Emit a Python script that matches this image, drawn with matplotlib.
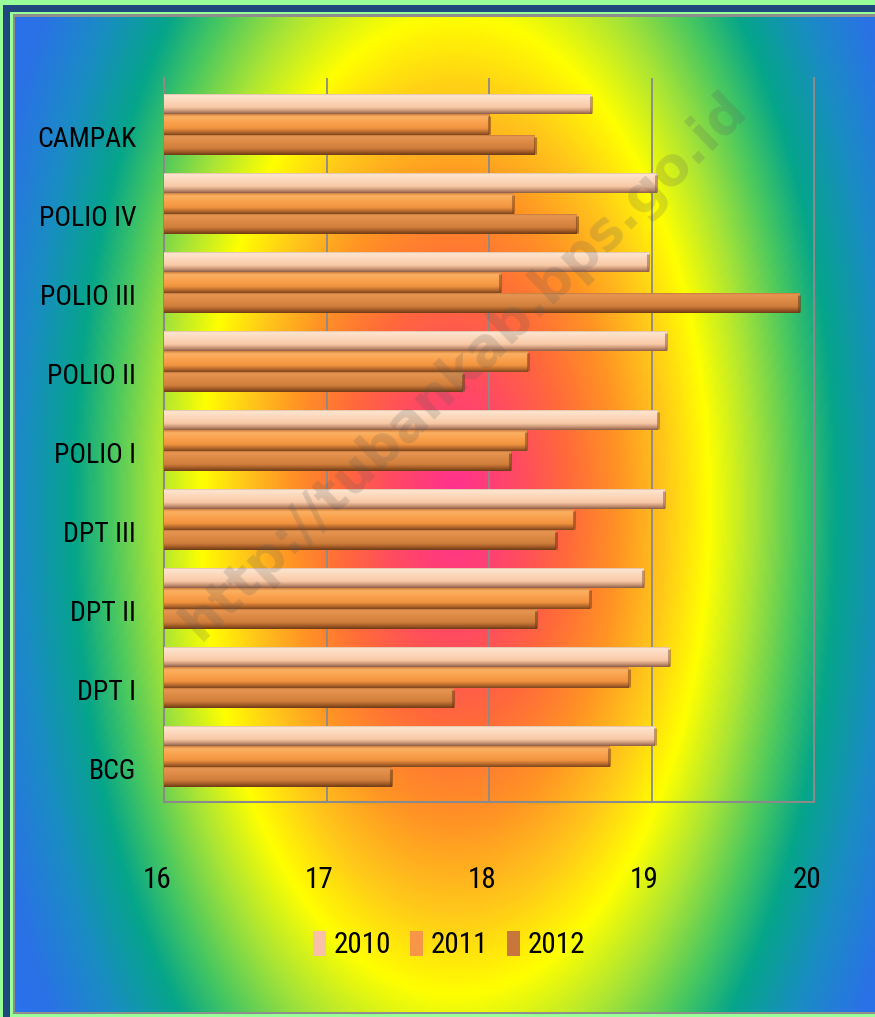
import numpy as np
import matplotlib
matplotlib.use('Agg')
import matplotlib.pyplot as plt
from matplotlib.colors import LinearSegmentedColormap
from matplotlib.patches import Rectangle
from matplotlib.transforms import ScaledTranslation
from matplotlib import font_manager as fm

# ---------------- data ----------------
categories = ['BCG', 'DPT I', 'DPT II', 'DPT III', 'POLIO I',
              'POLIO II', 'POLIO III', 'POLIO IV', 'CAMPAK']
years = ['2010', '2011', '2012']
v2010 = [19.02, 19.11, 18.95, 19.08, 19.04, 19.09, 18.98, 19.03, 18.63]
v2011 = [18.74, 18.86, 18.62, 18.52, 18.23, 18.24, 18.07, 18.15, 18.00]
v2012 = [17.40, 17.78, 18.29, 18.41, 18.13, 17.84, 19.91, 18.54, 18.28]
x_ticks = [16, 17, 18, 19, 20]


# ---------------- font: pick a narrow/condensed face if one exists ----------------
def pick_narrow():
    prefs = ['liberationsansnarrow-regular', 'robotocondensed-regular',
             'opensanscondensed', 'opensanscondensed-regular', 'dejavusanscondensed.',
             'notosans-condensed', 'condensed', 'narrow']
    files = []
    for f in fm.fontManager.ttflist:
        fn = f.fname.replace(' ', '').replace('_', '').lower()
        files.append((fn, f))
    bad = ('bold', 'italic', 'light', 'oblique', 'thin', 'medium', 'black', 'semi')
    for p in prefs:
        for fn, f in files:
            base = fn.split('/')[-1]
            if p in base and not any(b in base for b in bad):
                return f.fname
    for f in fm.fontManager.ttflist:
        if str(f.stretch) in ('condensed', 'semi-condensed', 'extra-condensed', '75', '87.5') \
                and f.style == 'normal' and f.weight in (400, 'normal', 'regular'):
            return f.fname
    return None


_nf = pick_narrow()


def fprop(size):
    if _nf:
        return fm.FontProperties(fname=_nf, size=size)
    return fm.FontProperties(family='DejaVu Sans', size=size)


W, H = 875, 1017
fig = plt.figure(figsize=(W / 100, H / 100), dpi=100)
fig.patch.set_facecolor('#99ff99')

# ---------------- background (pixel space) ----------------
bg = fig.add_axes([0, 0, 1, 1], zorder=-10)
bg.set_xlim(0, W)
bg.set_ylim(H, 0)
bg.axis('off')
bg.add_patch(Rectangle((3, 5), W, H, color='#1f497d', lw=0, zorder=1))
bg.add_patch(Rectangle((10, 12), W, H, color='#99ff99', lw=0, zorder=1.1))
bg.add_patch(Rectangle((13, 14), W, 1014 - 14, color='#8e8e8e', lw=0, zorder=1.2))

xs = np.linspace(15, W, 430)
ys = np.linspace(17, 1012, 500)
X, Y = np.meshgrid(xs, ys)
R = np.sqrt(((X - 455) / 255.0) ** 2 + ((Y - 505) / 490.0) ** 2)
stops = [(0.0, '#ff2f92'), (0.25, '#ff4a62'), (0.45, '#ff6a3a'),
         (0.65, '#ff9424'), (0.83, '#ffc81a'), (1.0, '#ffff00'),
         (1.18, '#a8e436'), (1.36, '#44c662'), (1.5, '#05a58a'),
         (1.7, '#1a8cc4'), (1.9, '#2a72e6'), (2.3, '#2f6bff')]
rmax = 2.3
cmap_bg = LinearSegmentedColormap.from_list('bg', [(p / rmax, c) for p, c in stops])
bg.imshow(R / rmax, cmap=cmap_bg, vmin=0, vmax=1, extent=[15, W, 1012, 17],
          aspect='auto', interpolation='bilinear', zorder=2)

# ---------------- main chart ----------------
ax_l, ax_r, ax_t, ax_b = 164, 814, 78, 802
ax = fig.add_axes([ax_l / W, 1 - ax_b / H, (ax_r - ax_l) / W, (ax_b - ax_t) / H])
ax.patch.set_alpha(0)

pos = np.arange(len(categories))
bh = 0.257
offsets = [bh, 0.0, -bh]
base_cols = ['#f9c1a6', '#f79646', '#c8763c']
profiles = [
    [(0.0, '#c89878'), (0.1, '#fde4d0'), (0.35, '#fcd9bd'), (0.68, '#f8c9a6'),
     (0.86, '#c99476'), (1.0, '#8e6048')],
    [(0.0, '#d08040'), (0.12, '#fbb162'), (0.4, '#faa14d'), (0.68, '#f29440'),
     (0.86, '#b86a2c'), (1.0, '#7e461c')],
    [(0.0, '#b86a30'), (0.12, '#e69652'), (0.4, '#dd8944'), (0.68, '#d07e3c'),
     (0.86, '#a05a26'), (1.0, '#6e3a16')],
]
series = [v2010, v2011, v2012]
grad = np.linspace(0, 1, 64).reshape(-1, 1)
containers = []
for vals, off, col, prof, lab in zip(series, offsets, base_cols, profiles, years):
    widths = np.array(vals) - x_ticks[0]
    bars = ax.barh(pos + off, widths, left=x_ticks[0], height=bh, color=col,
                   label=lab, zorder=3, lw=0)
    containers.append(bars)
    cm = LinearSegmentedColormap.from_list('p' + lab, prof)
    for rect, v, y in zip(bars.patches, vals, pos + off):
        im = ax.imshow(grad, cmap=cm, vmin=0, vmax=1, aspect='auto',
                       extent=[x_ticks[0], v, y - bh / 2, y + bh / 2],
                       interpolation='bilinear', zorder=4)
        im.set_clip_path(rect)
    # darker rounded end cap of each bar
    ax.vlines(vals, pos + off - bh * 0.45, pos + off + bh * 0.4,
              color=prof[-1][1], lw=2.2, alpha=0.55, zorder=5)

ax.set_xlim(x_ticks[0], x_ticks[-1])
ax.set_ylim(-0.575, 8.59)
ax.set_xticks(x_ticks)
ax.set_yticks(pos)
ax.set_yticklabels(categories, fontproperties=fprop(20))
ax.set_xticklabels([str(t) for t in x_ticks], fontproperties=fprop(21))
ax.tick_params(axis='both', length=0)
ax.tick_params(axis='y', pad=20)
ax.tick_params(axis='x', pad=46)
for lbl in ax.get_yticklabels():
    lbl.set_transform(lbl.get_transform() + ScaledTranslation(0, -11.5 / 100, fig.dpi_scale_trans))
for lbl in ax.get_xticklabels():
    lbl.set_transform(lbl.get_transform() + ScaledTranslation(-7 / 100, 0, fig.dpi_scale_trans))

ax.grid(axis='x', color='#8a8a8a', lw=1.3, zorder=1)
ax.grid(axis='y', visible=False)
ax.set_axisbelow(True)
ax.spines['top'].set_visible(False)
for s in ['left', 'bottom', 'right']:
    ax.spines[s].set_color('#8a8a8a')
    ax.spines[s].set_linewidth(1.5)

leg = ax.legend(handles=containers, labels=years, loc='center',
                bbox_to_anchor=(449 / W, 1 - 945 / H), bbox_transform=fig.transFigure,
                ncol=3, frameon=False, handlelength=0.45, handleheight=0.95,
                handletextpad=0.25, columnspacing=0.65, prop=fprop(21))

# watermark (over everything, semi-transparent)
fig.text(464 / W, 1 - 366 / H, 'http://tubankab.bps.go.id', rotation=44,
         ha='center', va='center', fontsize=38, fontweight='bold', color='#5a5a5a',
         alpha=0.2, family='DejaVu Sans', rotation_mode='anchor', zorder=10)

fig.savefig('out.png', dpi=100, facecolor=fig.get_facecolor())
